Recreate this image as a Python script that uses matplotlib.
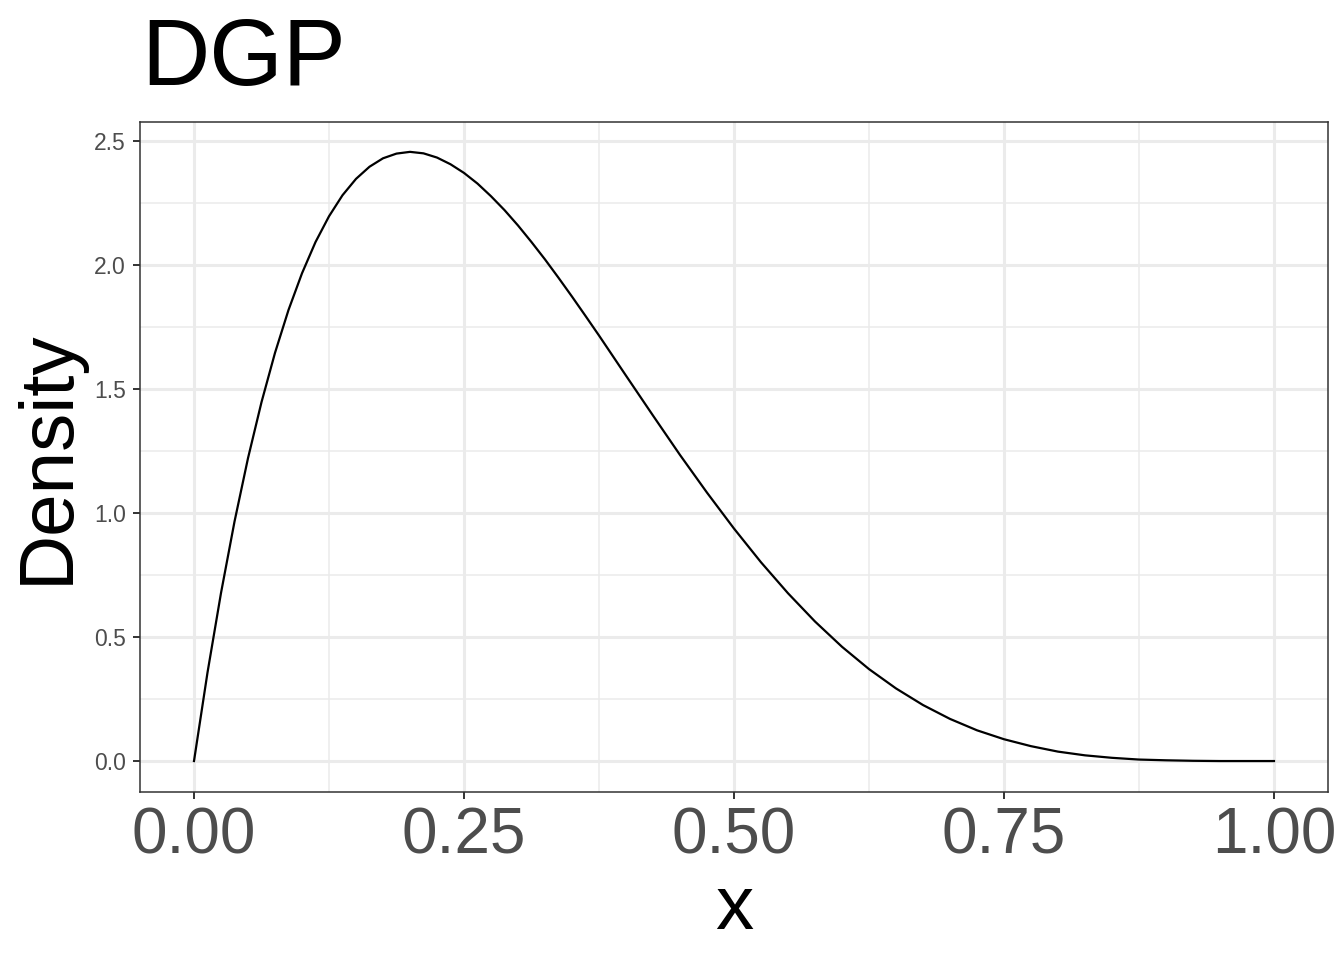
import matplotlib.pyplot as plt

plt.rcParams['font.family'] = ['Liberation Sans', 'DejaVu Sans']

# density curve
x_vals = [0.0, 0.0125, 0.025, 0.0375, 0.05, 0.0625, 0.075, 0.0875, 0.1, 0.1125,
          0.125, 0.1375, 0.15, 0.1625, 0.175, 0.1875, 0.2, 0.2125, 0.225, 0.2375,
          0.25, 0.2625, 0.275, 0.2875, 0.3, 0.3125, 0.325, 0.3375, 0.35, 0.3625,
          0.375, 0.3875, 0.4, 0.425, 0.45, 0.475, 0.5, 0.525, 0.55, 0.575,
          0.6, 0.625, 0.65, 0.675, 0.7, 0.725, 0.75, 0.775, 0.8, 0.825,
          0.85, 0.875, 0.9, 0.925, 0.95, 0.975, 1.0]
density = [0.0, 0.357, 0.678, 0.966, 1.222, 1.448, 1.647, 1.820, 1.968, 2.094,
           2.198, 2.283, 2.349, 2.398, 2.432, 2.451, 2.458, 2.452, 2.435, 2.408,
           2.373, 2.330, 2.279, 2.223, 2.161, 2.094, 2.024, 1.950, 1.874, 1.796,
           1.717, 1.636, 1.555, 1.394, 1.235, 1.083, 0.938, 0.802, 0.677, 0.563,
           0.461, 0.371, 0.293, 0.226, 0.170, 0.124, 0.088, 0.060, 0.038, 0.023,
           0.013, 0.006, 0.003, 0.001, 0.0, 0.0, 0.0]

x_major = [0.0, 0.25, 0.5, 0.75, 1.0]
x_major_labels = ['0.00', '0.25', '0.50', '0.75', '1.00']
x_minor = [0.125, 0.375, 0.625, 0.875]
y_major = [0.0, 0.5, 1.0, 1.5, 2.0, 2.5]
y_major_labels = ['0.0', '0.5', '1.0', '1.5', '2.0', '2.5']
y_minor = [0.25, 0.75, 1.25, 1.75, 2.25]

fig = plt.figure(figsize=(13.44, 9.6), dpi=100)
ax = fig.add_axes([140 / 1344, 1 - 791.5 / 960, 1188 / 1344, 670 / 960])

ax.plot(x_vals, density, color='black', linewidth=1.6, solid_joinstyle='round', zorder=3)

ax.set_xlim(-0.05, 1.05)
ax.set_ylim(-0.1229, 2.5805)

ax.set_xticks(x_major)
ax.set_xticklabels(x_major_labels)
ax.set_xticks(x_minor, minor=True)
ax.set_yticks(y_major)
ax.set_yticklabels(y_major_labels)
ax.set_yticks(y_minor, minor=True)

ax.grid(which='major', color='#EBEBEB', linewidth=2.2, zorder=0)
ax.grid(which='minor', color='#EBEBEB', linewidth=1.1, zorder=0)
ax.set_axisbelow(True)

for s in ax.spines.values():
    s.set_color('#333333')
    s.set_linewidth(1.1)

ax.tick_params(axis='both', which='major', length=5, width=1.4, color='#333333',
               labelcolor='#4D4D4D')
ax.tick_params(axis='both', which='minor', length=0)
ax.tick_params(axis='x', labelsize=46, pad=6)
ax.tick_params(axis='y', labelsize=16.5, pad=5)

ax.set_xlabel('x', fontsize=55, va='baseline')
ax.xaxis.set_label_coords(0.5, (791.5 - 929) / 670)
ax.set_ylabel('Density', fontsize=55, ha='center', va='baseline')
ax.yaxis.set_label_coords((68 - 140) / 1188, 0.5)

fig.text(141 / 1344, 1 - 85 / 960, 'DGP', fontsize=68, ha='left', va='baseline')

plt.savefig('out.png', dpi=100)
